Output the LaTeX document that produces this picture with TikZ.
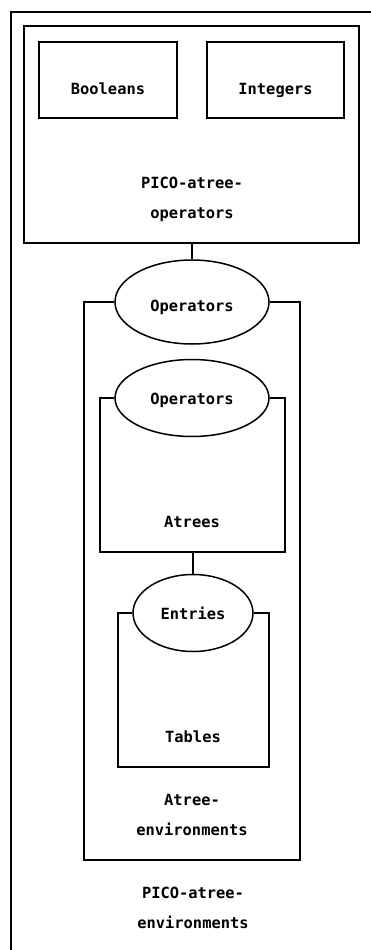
\documentclass[tikz,border=0pt]{standalone}
\usepackage{fontspec}
\setmonofont{DejaVu Sans Mono}
\usetikzlibrary{shapes.geometric}
\begin{document}
\begin{tikzpicture}[x=1pt,y=-1pt,
  frame/.style={draw=black,line width=1.8pt},
  boxnode/.style={draw=black,line width=1.8pt,rectangle,inner sep=0pt},
  oval/.style={draw=black,line width=1.5pt,ellipse,inner sep=0pt},
  lbl/.style={inner sep=0pt,anchor=base,font=\ttfamily\bfseries\fontsize{15.4}{17}\selectfont}]
\useasboundingbox (0,0) rectangle (371,950);
\fill[white] (0,0) rectangle (371,950);

% outermost module (extends past the page)
\draw[frame] (11,960) -- (11,12) -- (380,12);

% PICO-atree-operators
\node[boxnode,minimum width=335pt,minimum height=217pt] (pao) at (191.5,134.5) {};
\node[boxnode,minimum width=138pt,minimum height=76pt] (bool) at (108,80) {};
\node[lbl] (boollbl) at (108,94) {Booleans};
\node[boxnode,minimum width=137pt,minimum height=76pt] (ints) at (275.5,80) {};
\node[lbl] (intslbl) at (275.5,94) {Integers};
\node[lbl] (pao1) at (192,188) {PICO-atree-};
\node[lbl] (pao2) at (192,218) {operators};

% Atree-environments with its Operators interface
\node[oval,minimum width=154pt,minimum height=84pt] (ops1) at (192,302) {};
\node[lbl] (ops1lbl) at (192,311) {Operators};
\draw[frame] (pao.south -| ops1.north) -- (ops1.north);
\draw[frame] (ops1.west) -- (84,302) -- (84,860) -- (300,860) -- (300,302) -- (ops1.east);
\node[lbl] (ae1) at (192,805) {Atree-};
\node[lbl] (ae2) at (192,835) {environments};

% Atrees
\node[oval,minimum width=154pt,minimum height=77pt] (ops2) at (192,398) {};
\node[lbl] (ops2lbl) at (192,404) {Operators};
\draw[frame] (ops2.west) -- (100,398) -- (100,552) -- (285,552) -- (285,398) -- (ops2.east);
\coordinate (atreesbot) at (193,552);
\node[lbl] (atrees) at (192,527) {Atrees};

% Tables
\node[oval,minimum width=120pt,minimum height=77pt] (entries) at (193,613) {};
\node[lbl] (entrieslbl) at (193,619) {Entries};
\draw[frame] (atreesbot) -- (entries.north);
\draw[frame] (entries.west) -- (118,613) -- (118,767) -- (269,767) -- (269,613) -- (entries.east);
\node[lbl] (tables) at (193,742) {Tables};

% outer module name
\node[lbl] (pae1) at (193,898) {PICO-atree-};
\node[lbl] (pae2) at (193,928) {environments};
\end{tikzpicture}
\end{document}
